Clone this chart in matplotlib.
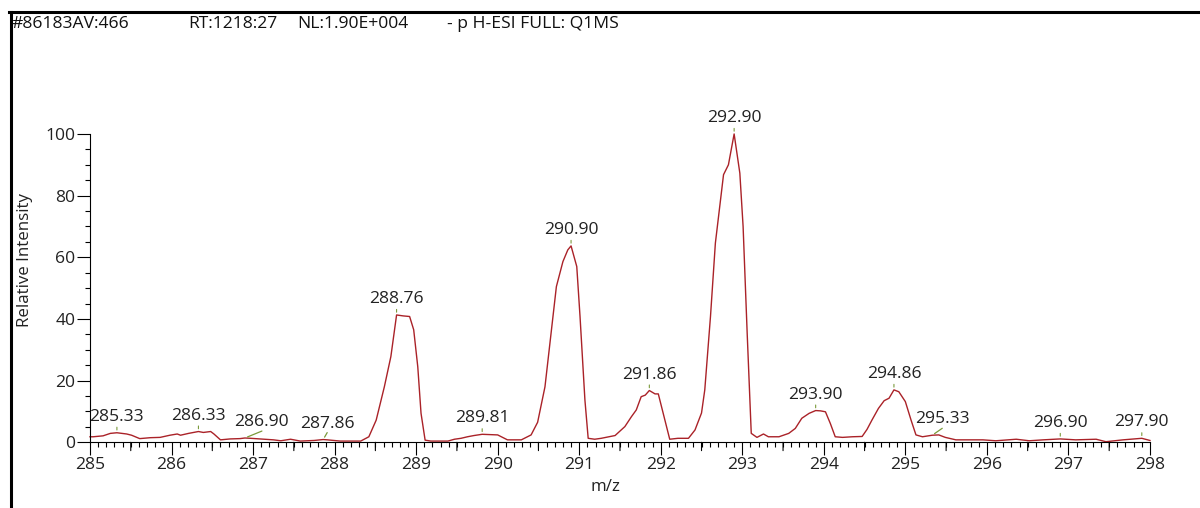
import matplotlib.pyplot as plt
from matplotlib.lines import Line2D
from matplotlib.ticker import MultipleLocator
import numpy as np

plt.rcParams['font.family'] = ['Open Sans', 'DejaVu Sans']

# spectrum trace (m/z, relative intensity)
mz = [285.00, 285.04, 285.16, 285.25, 285.33, 285.45, 285.51, 285.61, 285.74, 285.86,
      285.98, 286.07, 286.11, 286.21, 286.33, 286.39, 286.48, 286.52, 286.60, 286.72,
      286.84, 286.90, 286.97, 287.13, 287.25, 287.34, 287.46, 287.58, 287.75, 287.86,
      287.91, 288.07, 288.32, 288.42, 288.51, 288.61, 288.69, 288.76, 288.84, 288.92,
      288.97, 289.02, 289.06, 289.11, 289.18, 289.39, 289.47, 289.55, 289.63, 289.71,
      289.81, 290.00, 290.12, 290.29, 290.41, 290.49, 290.58, 290.64, 290.72, 290.80,
      290.86, 290.90, 290.97, 291.01, 291.07, 291.11, 291.19, 291.27, 291.44, 291.56,
      291.64, 291.70, 291.76, 291.81, 291.86, 291.93, 291.97, 292.03, 292.11, 292.21,
      292.34, 292.42, 292.50, 292.54, 292.61, 292.67, 292.77, 292.83, 292.90, 292.97,
      293.01, 293.06, 293.11, 293.18, 293.26, 293.32, 293.45, 293.57, 293.65, 293.73,
      293.82, 293.90, 293.96, 294.02, 294.08, 294.14, 294.23, 294.35, 294.47, 294.53,
      294.59, 294.67, 294.74, 294.80, 294.86, 294.92, 295.00, 295.07, 295.13, 295.21,
      295.33, 295.41, 295.49, 295.62, 295.78, 295.95, 296.11, 296.36, 296.52, 296.69,
      296.90, 297.09, 297.34, 297.46, 297.67, 297.90, 298.00]
intensity = [1.8, 1.8, 2.1, 2.9, 3.1, 2.7, 2.3, 1.2, 1.5, 1.6,
             2.3, 2.7, 2.3, 2.9, 3.5, 3.2, 3.5, 2.7, 0.8, 1.1,
             1.2, 1.4, 1.3, 1.0, 0.8, 0.5, 1.0, 0.4, 0.6, 0.9,
             0.8, 0.4, 0.4, 1.8, 7.2, 18.0, 27.8, 41.3, 41.0, 40.8,
             36.5, 24.5, 9.4, 0.7, 0.4, 0.4, 1.0, 1.3, 1.8, 2.2,
             2.6, 2.4, 0.8, 0.8, 2.4, 6.5, 18.0, 32.0, 50.5, 58.6,
             62.4, 63.7, 57.0, 40.8, 13.7, 1.3, 1.0, 1.3, 2.2, 5.1,
             8.3, 10.5, 14.8, 15.3, 16.8, 15.7, 15.7, 9.4, 1.0, 1.3,
             1.3, 4.0, 9.5, 17.0, 40.8, 64.6, 86.8, 90.0, 100.0, 87.3,
             70.0, 35.4, 2.9, 1.6, 2.7, 1.8, 1.8, 2.9, 4.5, 7.8,
             9.4, 10.3, 10.2, 9.9, 6.1, 1.8, 1.6, 1.8, 1.9, 4.2,
             7.2, 11.0, 13.5, 14.3, 17.0, 16.4, 13.2, 7.2, 2.4, 1.8,
             2.3, 2.4, 1.6, 0.8, 0.8, 0.8, 0.5, 1.0, 0.5, 0.8,
             1.1, 0.8, 1.0, 0.2, 0.8, 1.3, 0.6]

# labelled peaks and horizontal shift of their labels (px)
peak_mz = [285.33, 286.33, 286.90, 287.86, 288.76, 289.81, 290.90, 291.86,
           292.90, 293.90, 294.86, 295.33, 296.90, 297.90]
label_shift = [0, 0, 17, 4, 0, 0, 0, 0, 0, 0, 0, 10, 0, 0]

header = [(12, '#86183AV:466'), (188, 'RT:1218:27'), (297, 'NL:1.90E+004'),
          (447, '- p H-ESI FULL: Q1MS')]

fs = 12.6

fig = plt.figure(figsize=(12, 5.08), dpi=100)
ax = fig.add_axes([0.075, 0.1293, 0.8833, 0.607])

ax.plot(mz, intensity, color='#aa2228', lw=1.0, clip_on=False)

for p, dx in zip(peak_mz, label_shift):
    y = intensity[mz.index(p)]
    if dx == 0:
        ax.annotate('', xy=(p, y), xytext=(0, 4), textcoords='offset points',
                    arrowprops=dict(arrowstyle='-', color='#7a9a3a', lw=0.8,
                                    shrinkA=0, shrinkB=2))
    else:
        ax.annotate('', xy=(p, y), xytext=(dx * 0.72, 5), textcoords='offset points',
                    arrowprops=dict(arrowstyle='-', color='#7a9a3a', lw=0.9,
                                    shrinkA=0, shrinkB=2))
    ax.annotate(f'{p:.2f}', xy=(p, y), xytext=(dx * 0.72, 11.5),
                textcoords='offset points', ha='center', va='center',
                fontsize=fs, color='#222222')

ax.set_xlim(285, 298)
ax.set_ylim(0, 100)
ax.xaxis.set_major_locator(MultipleLocator(1))
ax.xaxis.set_minor_locator(MultipleLocator(0.1))
ax.yaxis.set_major_locator(MultipleLocator(20))
ax.yaxis.set_minor_locator(MultipleLocator(5))
ax.tick_params(which='major', length=9.5, width=0.8, pad=1, labelsize=fs,
               labelcolor='#222222')
ax.tick_params(which='minor', length=3.5, width=0.8)

# half-unit ticks on the m/z axis are a bit longer
for h in np.arange(285.5, 298, 1.0):
    ax.annotate('', xy=(h, 0), xycoords=('data', 'axes fraction'),
                xytext=(0, -6), textcoords='offset points',
                arrowprops=dict(arrowstyle='-', lw=0.8, color='black',
                                shrinkA=0, shrinkB=0))

for s in ['top', 'right']:
    ax.spines[s].set_visible(False)
for s in ['left', 'bottom']:
    ax.spines[s].set_linewidth(0.8)

ax.set_xlabel('m/z', fontsize=12.2, color='#222222')
ax.set_ylabel('Relative Intensity', fontsize=12.2, color='#222222')
ax.xaxis.set_label_coords(0.486, -0.118)
ax.yaxis.set_label_coords(-0.054, 0.59)

for x, t in header:
    fig.text(x / 1200, 1 - 23.5 / 508, t, fontsize=fs, color='#111111',
             ha='left', va='center')

# window frame
fig.add_artist(Line2D([9 / 1200, 1], [1 - 12 / 508] * 2, color='black', lw=2.2))
fig.add_artist(Line2D([10.5 / 1200] * 2, [0, 1 - 12 / 508], color='black', lw=2.2))

fig.savefig('out.png', dpi=100)
